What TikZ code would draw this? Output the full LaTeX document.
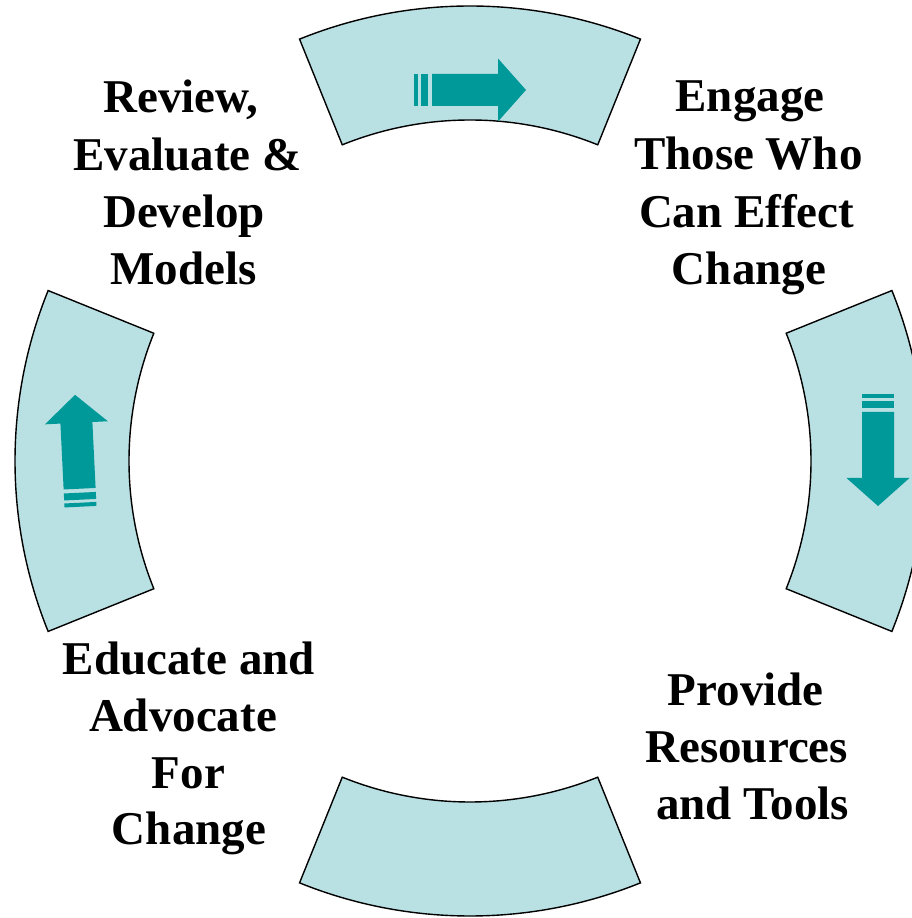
\documentclass[tikz,border=0pt]{standalone}
\usepackage{fontspec}
\setmainfont{Liberation Serif}
\usetikzlibrary{calc}
\definecolor{sectorfill}{RGB}{185,224,227}
\definecolor{arrowteal}{RGB}{0,153,153}
\tikzset{
  sector/.style={fill=sectorfill, draw=black, line width=1.4pt, line join=miter},
  lbl/.style={font=\fontsize{47}{56}\selectfont\bfseries, anchor=base, inner sep=0pt},
  sarrow/.pic={
    \fill[arrowteal] (0,-16) rectangle (4,16);
    \fill[arrowteal] (7,-16) rectangle (14,16);
    \fill[arrowteal] (18,-16) -- (84,-16) -- (84,-31.5) -- (112,0) -- (84,31.5) -- (84,16) -- (18,16) -- cycle;
  }
}
\begin{document}
\begin{tikzpicture}[x=1pt,y=1pt]
\useasboundingbox (0,0) rectangle (912,918);
\clip (0,0) rectangle (912,918);
\fill[white] (0,0) rectangle (912,918);
\coordinate (C) at (470,457);
% sectors
\draw[sector] ($(C)+(68:341)$) arc[start angle=68, end angle=112, radius=341]
  -- ($(C)+(112:455)$) arc[start angle=112, end angle=68, radius=455] -- cycle;
\draw[sector] ($(C)+(-22:341)$) arc[start angle=-22, end angle=22, radius=341]
  -- ($(C)+(22:455)$) arc[start angle=22, end angle=-22, radius=455] -- cycle;
\draw[sector] ($(C)+(248:341)$) arc[start angle=248, end angle=292, radius=341]
  -- ($(C)+(292:455)$) arc[start angle=292, end angle=248, radius=455] -- cycle;
\draw[sector] ($(C)+(158:341)$) arc[start angle=158, end angle=202, radius=341]
  -- ($(C)+(202:455)$) arc[start angle=202, end angle=158, radius=455] -- cycle;
% arrows
\pic at (414,828) {sarrow};
\pic[rotate=-90] at (878,524) {sarrow};
\pic[rotate=92.8] at (80.5,411.3) {sarrow};
% labels
\node[lbl] (r1) at (181,805) {Review,};
\node[lbl] (r2) at (187.5,747) {Evaluate \&};
\node[lbl] (r3) at (184,690) {Develop};
\node[lbl] (r4) at (183.3,633) {Models};
\node[lbl] (e1) at (750,806) {Engage};
\node[lbl] (e2) at (748.3,748) {Those Who};
\node[lbl] (e3) at (746.7,690) {Can Effect};
\node[lbl] (e4) at (749,633) {Change};
\node[lbl] (a1) at (189,243) {Educate and};
\node[lbl] (a2) at (183,186) {Advocate};
\node[lbl] (a3) at (188.5,129) {For};
\node[lbl] (a4) at (189,73) {Change};
\node[lbl] (p1) at (745.8,212) {Provide};
\node[lbl] (p2) at (746.7,155) {Resources};
\node[lbl] (p3) at (752.5,98) {and Tools};
\end{tikzpicture}
\end{document}
